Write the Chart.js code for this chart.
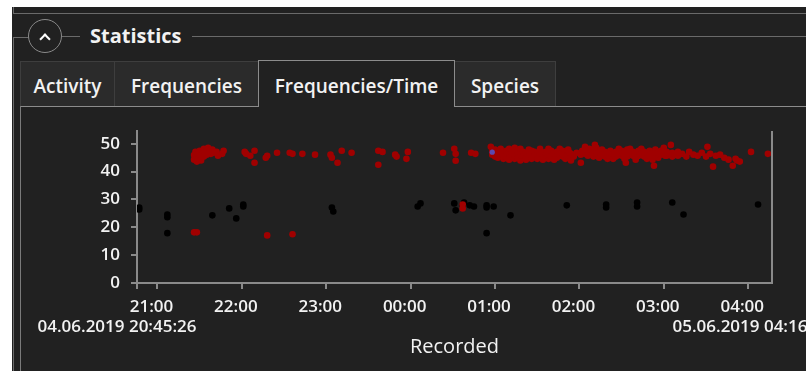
<!DOCTYPE html>
<html>
<head>
<meta charset="utf-8">
<script src="https://cdn.jsdelivr.net/npm/chart.js@4.4.1/dist/chart.umd.min.js"></script>
<style>
  html, body { margin: 0; padding: 0; }
  body {
    width: 806px; height: 371px; overflow: hidden; position: relative;
    background: #212121; color: #f2f2f2; font-family: "Open Sans", sans-serif;
  }
  .box { position: absolute; }
  .hl { position: absolute; height: 1px; background: #6a6a6a; }
  .vl { position: absolute; width: 1px; background: #6a6a6a; }
  .tab {
    position: absolute; top: 61px; height: 45px; box-sizing: border-box;
    border: 1px solid #3e3e3e; border-bottom: none; background: #2b2b2b;
    font-size: 19px; font-weight: 600; line-height: 40px; padding-top: 4px;
    text-align: center; white-space: nowrap;
  }
  .tab.sel { top: 60px; height: 47px; padding-top: 5px; background: #212121; border-color: #8c8c8c; z-index: 2; }
  #wrap { position: absolute; left: 21px; top: 107px; width: 785px; height: 264px; }
</style>
</head>
<body>
<div class="box" style="left:0;top:0;width:806px;height:7px;background:#fff"></div>
<div class="box" style="left:0;top:0;width:12px;height:371px;background:#fff"></div>

<div class="hl" style="left:13px;top:13px;width:793px"></div>
<div class="vl" style="left:13px;top:7px;height:7px"></div>

<!-- group box header -->
<div class="vl" style="left:13px;top:37px;height:334px"></div>
<div class="hl" style="left:13px;top:37px;width:16px"></div>
<div class="hl" style="left:61px;top:36px;width:19px"></div>
<div class="hl" style="left:192px;top:36px;width:614px"></div>
<div class="box" style="left:28px;top:19px;width:34px;height:34px;box-sizing:border-box;border:1.5px solid #8a8a8a;border-radius:50%;background:#212121"></div>
<div class="box" style="left:41px;top:34.5px;width:8px;height:8px;box-sizing:border-box;border-left:2.5px solid #fff;border-top:2.5px solid #fff;transform:rotate(45deg)"></div>
<div class="box" style="left:90px;top:26px;font-size:20px;font-weight:700;line-height:20px">Statistics</div>

<!-- tabs -->
<div class="tab" style="left:20px;width:95px">Activity</div>
<div class="tab" style="left:114px;width:145px">Frequencies</div>
<div class="tab sel" style="left:258px;width:197px">Frequencies/Time</div>
<div class="tab" style="left:454px;width:102px">Species</div>
<div class="hl" style="left:20px;top:106px;width:238px;background:#8c8c8c"></div>
<div class="hl" style="left:454px;top:106px;width:352px;background:#8c8c8c"></div>
<div class="vl" style="left:20px;top:106px;height:265px;background:#7a7a7a"></div>

<div id="wrap"><canvas id="chart" width="785" height="264"></canvas></div>

<script>
// recording window and axis ticks
const rangeStart = "04.06.2019 20:45:26";
const rangeEnd = "05.06.2019 04:16:55";
const startTime = "20:45:26";
const endTime = "04:16:55";
const hourTicks = ["21:00", "22:00", "23:00", "00:00", "01:00", "02:00", "03:00", "04:00"];
const freqTicks = [0, 10, 20, 30, 40, 50];
const freqMax = 54.6;

// calls: [time, frequency kHz]
const redPoints = [
  ["21:26", 46.0], ["21:26", 44.3], ["21:27", 47.1], ["21:27", 45.4], ["21:28", 43.6],
  ["21:29", 46.4], ["21:29", 44.6], ["21:30", 47.5], ["21:31", 45.7], ["21:31", 44.0],
  ["21:32", 46.8], ["21:33", 48.2], ["21:33", 45.4], ["21:34", 47.1], ["21:35", 46.1],
  ["21:36", 48.6], ["21:37", 47.5], ["21:38", 46.4], ["21:39", 47.9], ["21:40", 46.8],
  ["21:42", 47.1], ["21:43", 45.7], ["21:46", 46.4], ["21:47", 47.5],
  ["22:02", 47.1], ["22:03", 46.4], ["22:06", 45.7], ["22:09", 47.5], ["22:09", 43.2],
  ["22:17", 45.0], ["22:18", 45.7], ["22:25", 46.8], ["22:34", 46.8], ["22:36", 46.4],
  ["22:43", 46.4], ["22:52", 46.1], ["23:03", 46.1], ["23:04", 45.0], ["23:08", 43.2],
  ["23:11", 47.5], ["23:18", 46.8], ["23:37", 47.5], ["23:40", 47.1], ["23:37", 42.5],
  ["23:49", 46.1], ["23:50", 45.4], ["23:57", 44.6], ["23:58", 47.1],
  ["00:23", 46.8], ["00:31", 48.2], ["00:32", 46.4], ["00:32", 43.9], ["00:43", 46.8],
  ["00:46", 46.4], ["00:57", 48.9],
  ["21:26", 18.2], ["21:28", 18.2], ["22:18", 17.1], ["22:36", 17.5],
  ["00:37", 28.2], ["00:37", 26.8],
  ["00:58", 47.5], ["00:58", 46.1], ["01:00", 46.8], ["01:00", 45.4], ["01:00", 47.9],
  ["01:01", 46.1], ["01:02", 46.4], ["01:02", 45.0], ["01:03", 47.5], ["01:04", 47.1],
  ["01:04", 45.7], ["01:04", 48.2], ["01:05", 46.8], ["01:06", 46.1], ["01:06", 44.6],
  ["01:07", 45.4], ["01:08", 47.5], ["01:08", 45.4], ["01:09", 46.4], ["01:10", 46.4],
  ["01:10", 48.2], ["01:10", 44.3], ["01:11", 45.4], ["01:12", 47.1], ["01:12", 45.7],
  ["01:13", 46.8], ["01:14", 46.1], ["01:14", 48.6], ["01:14", 44.6], ["01:15", 45.7],
  ["01:16", 47.5], ["01:16", 45.0], ["01:17", 46.4], ["01:18", 46.8], ["01:18", 44.0],
  ["01:18", 48.2], ["01:19", 45.4], ["01:20", 45.7], ["01:20", 47.1], ["01:21", 46.1],
  ["01:22", 46.4], ["01:22", 44.3], ["01:23", 45.4], ["01:24", 47.9], ["01:24", 45.4],
  ["01:25", 46.8], ["01:26", 46.1], ["01:26", 44.6], ["01:26", 47.5], ["01:27", 45.4],
  ["01:28", 45.7], ["01:28", 47.1], ["01:29", 46.1], ["01:30", 46.4], ["01:30", 44.6],
  ["01:31", 45.4], ["01:32", 47.5], ["01:32", 45.4], ["01:32", 48.2], ["01:33", 46.4],
  ["01:34", 46.1], ["01:34", 44.3], ["01:35", 45.4], ["01:36", 47.1], ["01:36", 45.7],
  ["01:37", 46.4], ["01:38", 46.8], ["01:38", 44.6], ["01:38", 48.2], ["01:39", 45.7],
  ["01:40", 45.7], ["01:40", 47.5], ["01:41", 46.4], ["01:42", 46.4], ["01:42", 44.3],
  ["01:43", 45.4], ["01:44", 47.1], ["01:44", 45.0], ["01:45", 46.4], ["01:46", 46.1],
  ["01:46", 48.2], ["01:47", 46.8], ["01:48", 45.4], ["01:48", 47.5], ["01:49", 46.1],
  ["01:50", 46.8], ["01:50", 44.6], ["01:51", 45.7], ["01:52", 47.9], ["01:52", 45.7],
  ["01:53", 46.8], ["01:54", 46.4], ["01:54", 44.0], ["01:56", 45.4], ["01:58", 46.8],
  ["02:01", 43.2], ["02:01", 46.1], ["02:02", 47.5], ["02:04", 46.4], ["02:04", 48.9],
  ["02:05", 47.1], ["02:06", 47.5], ["02:06", 45.7], ["02:07", 48.2], ["02:08", 46.8],
  ["02:09", 47.5], ["02:10", 47.9], ["02:10", 45.4], ["02:11", 49.6], ["02:12", 48.6],
  ["02:12", 46.4], ["02:13", 47.5], ["02:14", 47.1], ["02:14", 45.0], ["02:15", 46.1],
  ["02:16", 46.1], ["02:16", 47.9], ["02:17", 46.8], ["02:18", 45.4], ["02:18", 47.1],
  ["02:19", 46.1], ["02:20", 46.8], ["02:20", 44.6], ["02:21", 45.7], ["02:22", 45.7],
  ["02:22", 47.5], ["02:23", 46.4], ["02:24", 46.4], ["02:24", 44.6], ["02:25", 45.7],
  ["02:26", 47.1], ["02:26", 45.4], ["02:27", 46.4], ["02:28", 46.1], ["02:28", 48.2],
  ["02:29", 47.1], ["02:30", 45.7], ["02:30", 47.5], ["02:31", 46.4], ["02:32", 46.8],
  ["02:32", 44.6], ["02:33", 43.2], ["02:34", 47.9], ["02:34", 45.4], ["02:35", 46.8],
  ["02:36", 46.4], ["02:36", 48.2], ["02:37", 47.1], ["02:38", 45.7], ["02:38", 47.1],
  ["02:39", 46.4], ["02:40", 46.8], ["02:40", 44.3], ["02:41", 45.4], ["02:42", 47.5],
  ["02:42", 45.7], ["02:43", 46.8], ["02:44", 46.1], ["02:44", 48.2], ["02:45", 47.1],
  ["02:46", 45.4], ["02:46", 47.1], ["02:47", 46.1], ["02:48", 46.8], ["02:48", 44.6],
  ["02:49", 45.7], ["02:50", 47.5], ["02:50", 45.7], ["02:51", 46.4], ["02:52", 46.4],
  ["02:52", 44.3], ["02:53", 42.1], ["02:54", 47.9], ["02:54", 45.4], ["02:55", 46.4],
  ["02:56", 46.8], ["02:56", 45.0], ["02:57", 46.1], ["02:58", 47.5], ["02:58", 46.1],
  ["02:59", 47.1], ["03:00", 48.6], ["03:00", 46.4], ["03:01", 45.7], ["03:02", 47.1],
  ["03:02", 45.7], ["03:04", 46.4], ["03:05", 49.6], ["03:06", 46.8], ["03:06", 45.4],
  ["03:08", 46.1], ["03:10", 45.7], ["03:10", 47.1], ["03:13", 46.4], ["03:16", 45.4],
  ["03:18", 47.1], ["03:21", 46.1], ["03:24", 45.7], ["03:27", 46.8], ["03:30", 45.4],
  ["03:31", 48.9], ["03:33", 46.4], ["03:35", 41.8], ["03:37", 45.7], ["03:40", 46.1],
  ["03:43", 45.0], ["03:46", 44.3], ["03:49", 42.1], ["03:51", 44.6], ["03:52", 44.0],
  ["03:54", 43.6], ["04:02", 47.1], ["04:14", 46.4]
];

const blackPoints = [
  ["20:47", 27.1], ["20:47", 26.4], ["21:07", 23.6], ["21:07", 24.6], ["21:07", 17.9],
  ["21:39", 24.3], ["21:51", 26.8], ["21:56", 23.2], ["22:01", 28.2], ["22:01", 27.5],
  ["23:04", 27.1], ["23:05", 25.7], ["00:05", 27.5], ["00:07", 28.6],
  ["00:31", 28.6], ["00:32", 26.1], ["00:37", 27.9], ["00:38", 28.9], ["00:42", 27.9],
  ["00:45", 27.5], ["00:54", 27.9], ["00:54", 27.1], ["00:59", 27.5], ["00:54", 17.9],
  ["01:11", 24.3], ["01:51", 27.9], ["02:19", 28.2], ["02:19", 27.1], ["02:41", 28.9],
  ["02:41", 27.5], ["03:06", 28.9], ["03:14", 24.6], ["04:07", 28.2]
];

const otherPoints = [["00:58", 47.0]];

const AXIS = "#8a8a8a";
const TEXT = "#f2f2f2";
const FONT = '"Open Sans", sans-serif';

// minutes since 20:00 on the first day
function toMin(t) {
  const [h, m, s = 0] = t.split(":").map(Number);
  return ((h < 12 ? h + 24 : h) - 20) * 60 + m + s / 60;
}
const START = toMin(startTime);
const END = toMin(endTime);
const toXY = pts => pts.map(([t, f]) => ({ x: toMin(t), y: f }));

const frame = {
  id: "frame",
  afterDraw(chart) {
    const { ctx, chartArea: a, scales: { x } } = chart;
    ctx.save();
    ctx.strokeStyle = AXIS;
    ctx.lineWidth = 2;
    ctx.beginPath();
    ctx.moveTo(a.right, a.top);
    ctx.lineTo(a.right, a.bottom + 1);
    ctx.stroke();
    ctx.fillStyle = TEXT;
    ctx.font = "600 17px " + FONT;
    ctx.textAlign = "center";
    ctx.textBaseline = "middle";
    ctx.fillText(rangeStart, x.getPixelForValue(START) - 20, a.bottom + 44);
    ctx.fillText(rangeEnd, x.getPixelForValue(END) - 20, a.bottom + 44);
    ctx.restore();
  }
};

const tickFont = { family: FONT, size: 17, weight: 600 };

new Chart(document.getElementById("chart").getContext("2d"), {
  type: "scatter",
  data: {
    datasets: [
      { label: "other", data: toXY(otherPoints), backgroundColor: "#5d48b0", pointRadius: 2.6 },
      { label: "red", data: toXY(redPoints), backgroundColor: "#a00000", pointRadius: 3.3 },
      { label: "black", data: toXY(blackPoints), backgroundColor: "#000000", pointRadius: 3.3 }
    ]
  },
  options: {
    animation: false,
    responsive: false,
    layout: { padding: { top: 24, right: 34, left: 0, bottom: 0 } },
    plugins: { legend: { display: false }, tooltip: { enabled: false } },
    elements: { point: { borderWidth: 0, hoverRadius: 3 } },
    scales: {
      x: {
        type: "linear",
        min: START,
        max: END,
        afterFit: s => { s.height = 88; },
        afterBuildTicks: s => { s.ticks = [START, ...hourTicks.map(toMin)].map(v => ({ value: v })); },
        grid: { drawOnChartArea: false, drawTicks: true, tickLength: 6, color: AXIS, lineWidth: 2 },
        border: { display: true, color: AXIS, width: 2 },
        ticks: {
          color: TEXT, font: tickFont, padding: 8, labelOffset: -6,
          maxRotation: 0, autoSkip: false,
          callback: (v, i) => (i === 0 ? "" : hourTicks[i - 1])
        },
        title: {
          display: true, text: "Recorded", color: TEXT,
          font: { family: FONT, size: 20 }, padding: { top: 0, bottom: 12 }
        }
      },
      y: {
        type: "linear",
        min: 0,
        max: freqMax,
        afterFit: s => { s.width = 116; },
        afterBuildTicks: s => { s.ticks = freqTicks.map(v => ({ value: v })); },
        grid: { drawOnChartArea: false, drawTicks: true, tickLength: 6, color: AXIS, lineWidth: 2 },
        border: { display: true, color: AXIS, width: 2 },
        ticks: { color: TEXT, font: tickFont, padding: 11 }
      }
    }
  },
  plugins: [frame]
});
</script>
</body>
</html>
